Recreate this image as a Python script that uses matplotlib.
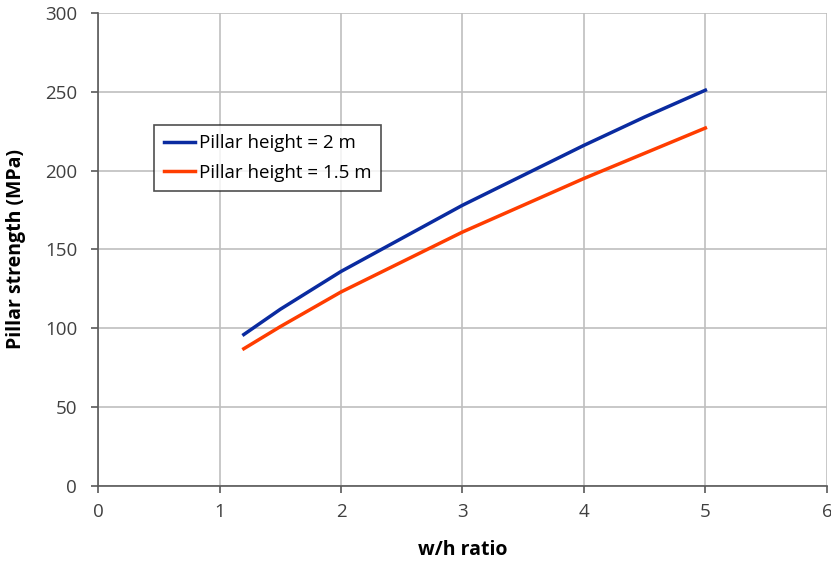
import matplotlib.pyplot as plt

# w/h ratio vs pillar strength (MPa)
wh = [1.2, 1.35, 1.5, 1.75, 2.0, 2.5, 3.0, 3.5, 4.0, 4.5, 5.0]
strength_2m = [96, 104, 112, 124, 136, 157, 178, 197, 216, 234, 251]
strength_15m = [87, 94, 101, 112, 123, 142, 161, 178, 195, 211, 227]

plt.rcParams['font.family'] = ['Open Sans', 'DejaVu Sans']

fig = plt.figure(figsize=(8.31, 5.63), dpi=100)
ax = fig.add_axes([0.118, 0.137, 0.877, 0.840])

ax.plot(wh, strength_2m, color='#0A2BA0', lw=2.5, label='Pillar height = 2 m')
ax.plot(wh, strength_15m, color='#FF3D00', lw=2.5, label='Pillar height = 1.5 m')

ax.set_xlim(0, 6)
ax.set_ylim(0, 300)
ax.set_xticks(range(0, 7))
ax.set_yticks(range(0, 301, 50))
ax.grid(True, color='#BFBFBF', lw=1.2)
ax.set_axisbelow(True)

for s in ['top', 'right']:
    ax.spines[s].set_visible(False)
for s in ['left', 'bottom']:
    ax.spines[s].set_color('#595959')
    ax.spines[s].set_linewidth(1.2)
ax.tick_params(colors='#595959', labelcolor='#404040', labelsize=13.5, length=5, width=1.2)
ax.tick_params(axis='y', pad=10)
ax.tick_params(axis='x', pad=7)

ax.set_xlabel('w/h ratio', fontsize=14, fontweight='bold', labelpad=14)
ax.set_ylabel('Pillar strength (MPa)', fontsize=14, fontweight='bold', labelpad=14)

leg = ax.legend(loc='upper left', bbox_to_anchor=(0.077, 0.763), fontsize=13.5,
                frameon=True, fancybox=False, edgecolor='#222222', handlelength=1.7,
                handletextpad=0.2, borderaxespad=0, labelspacing=0.6, borderpad=0.5)
leg.get_frame().set_linewidth(1.2)

fig.savefig('out.png', dpi=100)
